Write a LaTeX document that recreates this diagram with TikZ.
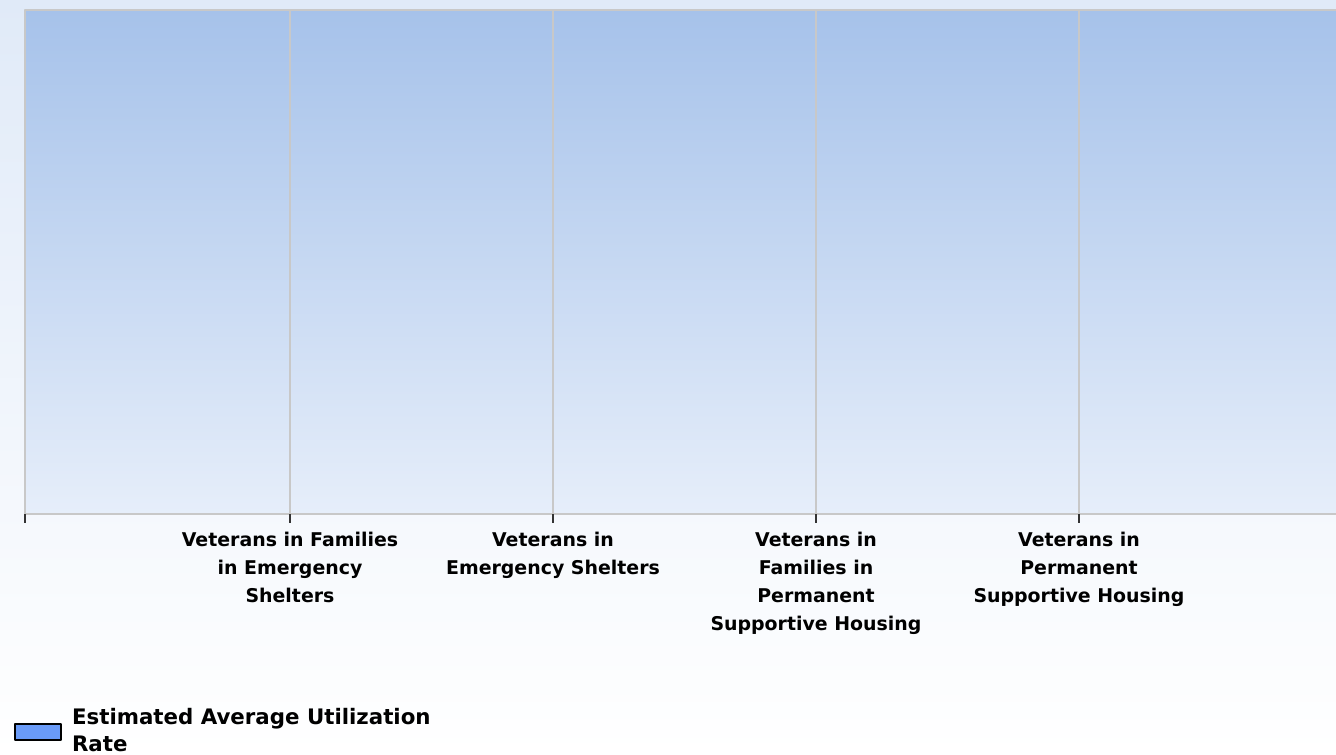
\documentclass[tikz,border=0pt]{standalone}
\usepackage{fontspec}
\setmainfont{DejaVu Sans}
\usetikzlibrary{positioning}
\definecolor{bgtop}{HTML}{E0EAF8}
\definecolor{plottop}{HTML}{A6C2EA}
\definecolor{plotbot}{HTML}{E6EEFA}
\definecolor{gridgray}{HTML}{C8C8C8}
\definecolor{keyblue}{HTML}{6A9BF8}
\begin{document}
\begin{tikzpicture}[x=0.75pt, y=-0.75pt, font=\fontsize{14.2}{21}\selectfont\bfseries, line join=round, line cap=round]
	\def\xl{25} \def\xr{1336}
	\def\yt{10} \def\yb{514}
	\useasboundingbox (0,0) rectangle (1336,755);
	\shade[top color=bgtop, bottom color=white] (0,0) rectangle (1336,755);
	\shade[top color=plottop, bottom color=plotbot] (\xl,\yt) rectangle (\xr,\yb);
	% Rahmen und Gitter
	\draw[gridgray, line width=1.2pt] (\xl,\yb) -- (\xl,\yt) -- (\xr,\yt);
	\draw[gridgray, line width=1.2pt] (\xl,\yb) -- (\xr,\yb);
	\foreach \x in {290,553,816,1079} \draw[gridgray, line width=1pt] (\x,\yt) -- (\x,\yb);
	\foreach \x in {\xl,290,553,816,1079} \draw[black!80, line width=1.2pt, line cap=butt] (\x,\yb) -- (\x,523);
	% Beschriftung
	\node[anchor=north, align=center] (famES) at (290,527) {Veterans in Families\\in Emergency\\Shelters};
	\node[anchor=north, align=center] (vetES) at (553,527) {Veterans in\\Emergency Shelters};
	\node[anchor=north, align=center] (famPSH) at (816,527) {Veterans in\\Families in\\Permanent\\Supportive Housing};
	\node[anchor=north, align=center] (vetPSH) at (1079,527) {Veterans in\\Permanent\\Supportive Housing};
	% Legende
	\node[draw=black, line width=1.5pt, fill=keyblue, minimum width=34.5pt, minimum height=12pt, inner sep=0pt] (key) at (38,732) {};
	\node[right=4pt of key.east, yshift=1.5pt, align=left, anchor=west, font=\fontsize{16}{20.5}\selectfont\bfseries] (keytext) {Estimated Average Utilization\\Rate};
\end{tikzpicture}
\end{document}
